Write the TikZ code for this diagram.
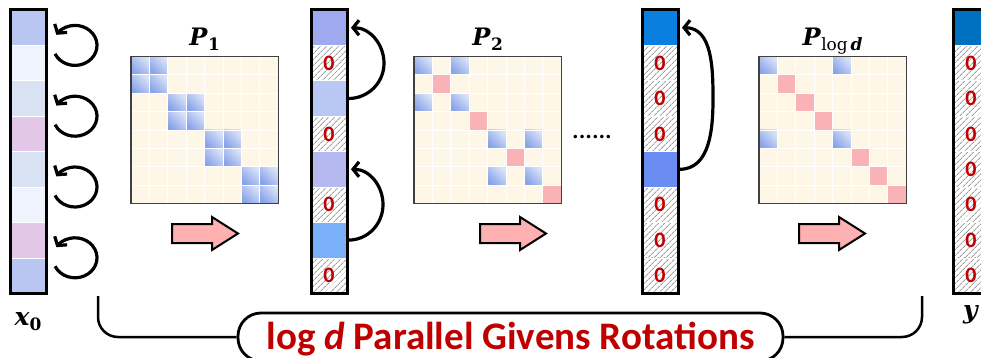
\documentclass[tikz,border=0pt]{standalone}
\usepackage{fontspec}
\newfontfamily\carlito{Carlito}
\newfontfamily\labfont{DejaVu Serif}
\usetikzlibrary{arrows.meta,patterns.meta}
\definecolor{matbg}{HTML}{FEF7E8}
\definecolor{bdark}{HTML}{88A3E8}
\definecolor{blight}{HTML}{D8E2F7}
\definecolor{pinkc}{HTML}{F9B2B5}
\definecolor{zred}{HTML}{C00000}
\definecolor{arrpink}{HTML}{FFB0B0}
\definecolor{xa}{HTML}{B9C6F2}
\definecolor{xb}{HTML}{EEF3FD}
\definecolor{xc}{HTML}{D8E2F2}
\definecolor{xd}{HTML}{E2C7E9}
\definecolor{va}{HTML}{9FA9F0}
\definecolor{vb}{HTML}{B9C7F5}
\definecolor{vc}{HTML}{B5B9F0}
\definecolor{vd}{HTML}{7AB0F7}
\definecolor{wa}{HTML}{0A7FE0}
\definecolor{wb}{HTML}{6B8CF2}
\definecolor{ya}{HTML}{0070C0}
\def\zz{Z}
\newcommand{\bi}[1]{\textbf{\textit{#1}}}
\newcommand{\sublab}[1]{\raisebox{-5pt}{\fontsize{17}{18}\selectfont #1}}
\newcommand{\myvec}[3]{%
  \foreach \c [count=\i] in {#3} {
    \edef\tmp{\c}
    \ifx\tmp\zz
      \node[zcell] (#1-\i) at ({#2},{-10-(\i-0.5)*35.4}) {0};
    \else
      \node[vcell, fill=\c] (#1-\i) at ({#2},{-10-(\i-0.5)*35.4}) {};
    \fi
  }
  \node[vborder] (#1) at ({#2},-151.6) {};
}
\newcommand{\mymat}[4]{%
  \node[matbox] (#1) at (#2,-130) {};
  \foreach \r/\cc in {#3} {
    \shade[bcell] ([shift={(\cc*18.4,-\r*18.4)}]#1.north west) rectangle ++(18.4,-18.4);
  }
  \foreach \r/\cc in {#4} {
    \fill[pinkc] ([shift={(\cc*18.4,-\r*18.4)}]#1.north west) rectangle ++(18.4,-18.4);
  }
  \foreach \k in {1,...,7} {
    \draw[gridl] ([xshift=\k*18.4pt]#1.north west) -- ([xshift=\k*18.4pt]#1.south west);
    \draw[gridl] ([yshift=-\k*18.4pt]#1.north west) -- ([yshift=-\k*18.4pt]#1.north east);
  }
  \draw[matborder] (#1.north west) rectangle (#1.south east);
}
\newcommand{\blockarrow}[1]{%
  \draw[blockarr] (#1) ++(0,9.5) -- ++(40,0) -- ++(0,7) -- ++(26,-16.5) -- ++(-26,-16.5) -- ++(0,7) -- ++(-40,0) -- cycle;
}
\begin{document}
\begin{tikzpicture}[x=1pt,y=1pt,
  vcell/.style={minimum width=36pt, minimum height=35.4pt, inner sep=0pt, outer sep=0pt, draw=white, line width=0.6pt},
  zcell/.style={vcell, pattern={Lines[angle=45,distance=4pt,line width=0.9pt]}, pattern color=gray!75, text=zred, font=\carlito\bfseries\fontsize{22}{24}\selectfont},
  vborder/.style={draw=black, line width=3pt, minimum width=36pt, minimum height=283.2pt, inner sep=0pt, outer sep=0pt},
  matbox/.style={minimum size=147.2pt, fill=matbg, inner sep=0pt, outer sep=0pt},
  bcell/.style={bottom color=bdark, top color=blight, shading angle=-45},
  gridl/.style={white, line width=0.8pt},
  matborder/.style={draw=black!75, line width=1.2pt},
  blockarr/.style={draw=black, line width=2pt, fill=arrpink, line join=miter},
  rot/.style={line width=3.2pt, -{Straight Barb[length=6pt,width=15pt]}},
  plab/.style={anchor=base, font=\labfont\fontsize{24}{28}\selectfont},
  mlab/.style={anchor=base, font=\labfont\fontsize{25}{28}\selectfont},
  brace/.style={line width=2.5pt, rounded corners=20pt}
]
\useasboundingbox (0,0) rectangle (981,-358);
\clip (0,0) rectangle (981,-358);

% vectors
\myvec{x}{28}{xa,xb,xc,xd,xc,xb,xd,xa}
\myvec{v}{329}{va,Z,vb,Z,vc,Z,vd,Z}
\myvec{w}{660}{wa,Z,Z,Z,wb,Z,Z,Z}
\myvec{u}{971}{ya,Z,Z,Z,Z,Z,Z,Z}

% rotation loops on x0
\foreach \k/\cy in {1/45.4,2/116.2,3/187,4/257.8} {
  \coordinate (c\k) at (75,-\cy);
  \draw[rot] ([shift={(205:22pt and 20pt)}]c\k) arc[start angle=205, end angle=508, x radius=22pt, y radius=20pt];
}

% matrices
\mymat{P1}{204.6}{0/0,0/1,1/0,1/1,2/2,2/3,3/2,3/3,4/4,4/5,5/4,5/5,6/6,6/7,7/6,7/7}{}
\mymat{P2}{487.6}{0/0,0/2,2/0,2/2,4/4,4/6,6/4,6/6}{1/1,3/3,5/5,7/7}
\mymat{P3}{832.6}{0/0,0/4,4/0,4/4}{1/1,2/2,3/3,5/5,6/6,7/7}

\node[plab] (L1) at ([yshift=11pt]P1.north) {\bi{P}\sublab{\textbf{1}}};
\node[plab] (L2) at ([yshift=11pt]P2.north) {\bi{P}\sublab{\textbf{2}}};
\node[plab] (L3) at ([yshift=11pt]P3.north) {\bi{P}\sublab{log\,\bi{d}}};

% block arrows
\coordinate (a1) at (172,-233.5);
\coordinate (a2) at (480,-233.5);
\coordinate (a3) at (799,-233.5);
\blockarrow{a1}
\blockarrow{a2}
\blockarrow{a3}

% gather arrows
\draw[rot] ([xshift=1.5pt]v-3.east) to[out=0,in=-90] (384,-63.3) to[out=90,in=0] ([xshift=4pt]v-1.east);
\draw[rot] ([xshift=1.5pt]v-7.east) to[out=0,in=-90] (383,-204.6) to[out=90,in=0] ([xshift=4pt]v-5.east);
\draw[rot] ([xshift=1.5pt]w-5.east) to[out=0,in=-90] (713,-98.5) to[out=90,in=0] ([xshift=4pt]w-1.east);

\node[font=\labfont\bfseries\fontsize{19}{22}\selectfont] (dots) at (592,-137) {......};

% labels
\node[mlab] (lx) at (28,-325) {\bi{x}\sublab{\textbf{0}}};
\node[mlab] (ly) at (971,-318) {\bi{y}};

% brace and title box
\coordinate (bl) at (98,-296);
\coordinate (br) at (922,-296);
\node[draw, line width=2.8pt, rounded corners=23pt, fill=white, minimum width=545pt, minimum height=48pt, inner sep=0pt] (box) at (510.5,-337) {};
\draw[brace] (bl) |- (box.west);
\draw[brace] (br) |- (box.east);
\node[anchor=base, text=zred, font=\carlito\bfseries\fontsize{39}{42}\selectfont] (title) at (510.5,-349) {log \textit{d} Parallel Givens Rotations};
\end{tikzpicture}
\end{document}
